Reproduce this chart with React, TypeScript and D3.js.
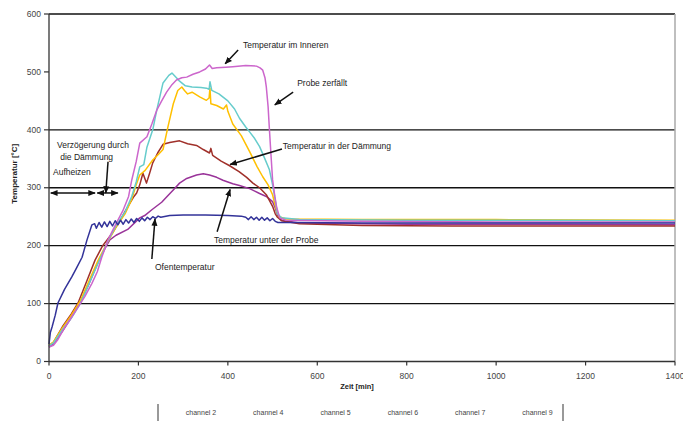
import React from "react";
import * as d3 from "d3";

type Pt = [number, number];

// Zeit [min] / Temperatur [°C]
const ofen: Pt[] = [
  [0, 30], [3, 50], [7, 60], [14, 80], [20, 101], [35, 125], [51, 146], [62, 162], [74, 180],
  [85, 210], [96, 236], [102, 238], [106, 230], [112, 240], [118, 232], [124, 241], [130, 233],
  [136, 242], [142, 234], [148, 243], [154, 236], [160, 244], [166, 237], [172, 245], [178, 239],
  [184, 246], [190, 240], [196, 247], [202, 242], [208, 248], [214, 243], [220, 249], [226, 245],
  [232, 250], [238, 247], [244, 251], [250, 249], [270, 252], [300, 253], [350, 253], [400, 252],
  [430, 251], [440, 249], [446, 245], [452, 250], [458, 245], [464, 249], [470, 244], [476, 249],
  [482, 244], [488, 248], [494, 243], [500, 247], [506, 242], [512, 240], [530, 240], [700, 239],
  [1000, 239], [1400, 239],
];

const inneren: Pt[] = [
  [0, 25], [10, 28], [20, 38], [36, 60], [50, 76], [65, 94], [80, 112], [96, 135], [108, 155],
  [118, 180], [132, 210], [150, 238], [165, 260], [178, 285], [185, 313], [195, 345], [203, 377],
  [219, 388], [230, 410], [241, 434], [252, 450], [263, 465], [275, 478], [285, 486], [297, 490],
  [308, 491], [322, 496], [337, 500], [350, 505], [359, 512], [365, 506], [375, 507], [395, 508],
  [411, 509], [440, 511], [464, 510], [472, 507], [478, 503], [483, 490], [486, 474], [490, 440],
  [493, 400], [497, 350], [500, 314], [505, 285], [509, 267], [516, 248], [530, 244], [700, 242],
  [1000, 241], [1400, 241],
];

const cyan: Pt[] = [
  [0, 27], [10, 32], [30, 55], [50, 75], [70, 100], [90, 135], [110, 170], [130, 205], [150, 235],
  [170, 258], [185, 285], [195, 310], [203, 336], [212, 340], [219, 370], [232, 400], [241, 434],
  [255, 481], [268, 494], [275, 498], [285, 490], [292, 484], [305, 476], [320, 474], [340, 473],
  [352, 472], [358, 470], [360, 483], [364, 468], [380, 462], [400, 450], [415, 436], [426, 420],
  [440, 405], [449, 396], [460, 385], [471, 371], [480, 355], [493, 331], [500, 305], [505, 284],
  [511, 255], [520, 248], [560, 245], [800, 244], [1100, 244], [1400, 243],
];

const gelb: Pt[] = [
  [0, 28], [10, 34], [30, 58], [50, 80], [70, 105], [90, 140], [110, 175], [130, 205], [150, 232],
  [170, 255], [185, 280], [195, 305], [203, 322], [215, 330], [232, 348], [245, 358], [255, 366],
  [266, 405], [278, 445], [288, 468], [297, 474], [303, 468], [310, 462], [320, 465], [337, 457],
  [352, 451], [358, 455], [360, 472], [362, 445], [375, 442], [390, 436], [397, 443], [400, 432],
  [411, 410], [430, 390], [449, 362], [465, 337], [478, 319], [490, 305], [500, 288], [505, 272],
  [510, 258], [515, 250], [530, 246], [700, 245], [1000, 245], [1400, 244],
];

const daemmung: Pt[] = [
  [0, 27], [10, 33], [30, 60], [50, 82], [65, 101], [85, 140], [103, 175], [120, 200], [141, 221],
  [160, 245], [176, 267], [190, 285], [196, 291], [203, 305], [210, 325], [218, 308], [225, 325],
  [232, 343], [243, 360], [255, 375], [270, 378], [292, 381], [310, 376], [330, 373], [345, 366],
  [359, 360], [362, 368], [366, 356], [385, 346], [404, 338], [425, 328], [442, 318], [456, 308],
  [471, 300], [486, 288], [500, 268], [506, 255], [511, 249], [520, 243], [560, 238], [700, 235],
  [900, 234], [1100, 234], [1400, 234],
];

const unterProbe: Pt[] = [
  [0, 25], [10, 30], [30, 52], [50, 76], [70, 102], [90, 135], [110, 172], [125, 195], [136, 210],
  [150, 218], [176, 228], [203, 248], [214, 252], [230, 262], [252, 275], [263, 284], [280, 298],
  [292, 308], [308, 316], [330, 322], [345, 324], [359, 322], [375, 318], [389, 313], [411, 307],
  [426, 304], [450, 298], [471, 290], [486, 285], [500, 276], [506, 265], [511, 253], [520, 244],
  [560, 239], [800, 237], [1100, 237], [1400, 236],
];

const series = [
  { name: "channel 2", data: unterProbe, color: "#993399" },
  { name: "channel 4", data: daemmung, color: "#a0302a" },
  { name: "channel 5", data: gelb, color: "#ffc000" },
  { name: "channel 6", data: cyan, color: "#66cccc" },
  { name: "channel 7", data: inneren, color: "#cc66cc" },
  { name: "channel 9", data: ofen, color: "#333399" },
];

const xTicks = [0, 200, 400, 600, 800, 1000, 1200, 1400];
const yTicks = [0, 100, 200, 300, 400, 500, 600];
const gridValues = [100, 200, 300, 400];

// Beschriftungen in Datenkoordinaten
const labels = [
  { text: "Temperatur im Inneren", x: 434, y: 541 },
  { text: "Probe zerfällt", x: 555, y: 476 },
  { text: "Temperatur in der Dämmung", x: 523, y: 367 },
  { text: "Temperatur unter der Probe", x: 369, y: 205 },
  { text: "Ofentemperatur", x: 237, y: 158 },
  { text: "Verzögerung durch", x: 18, y: 369 },
  { text: "die Dämmung", x: 25, y: 348 },
  { text: "Aufheizen", x: 9, y: 322 },
];

const arrows = [
  { x1: 423, y1: 538, x2: 394, y2: 514, both: false },
  { x1: 546, y1: 465, x2: 505, y2: 443, both: false },
  { x1: 521, y1: 367, x2: 405, y2: 340, both: false },
  { x1: 376, y1: 224, x2: 405, y2: 297, both: false },
  { x1: 230, y1: 177, x2: 237, y2: 246, both: false },
  { x1: 132, y1: 345, x2: 127, y2: 291, both: false },
  { x1: 4, y1: 291, x2: 103, y2: 291, both: true },
  { x1: 108, y1: 291, x2: 154, y2: 291, both: true },
];

const margin = { top: 14, right: 8, bottom: 64.5, left: 49 };
const W = 683;
const H = 426;
const width = W - margin.left - margin.right;
const height = H - margin.top - margin.bottom;

const xScale = d3.scaleLinear().domain([0, 1400]).range([0, width]);
const yScale = d3.scaleLinear().domain([0, 600]).range([height, 0]);

const line = d3
  .line<Pt>()
  .x((d) => xScale(d[0]))
  .y((d) => yScale(d[1]));

const font = "'Liberation Sans', Arial, sans-serif";

export default function App() {
  return (
    <svg
      width={W}
      height={H}
      style={{ position: "absolute", left: 0, top: 0, background: "#fff" }}
      fontFamily={font}
    >
      <defs>
        <marker id="head" viewBox="0 0 10 10" refX="9" refY="5" markerWidth="5" markerHeight="5" orient="auto-start-reverse">
          <path d="M0,1 L10,5 L0,9 z" fill="#111" />
        </marker>
      </defs>
      <g transform={`translate(${margin.left},${margin.top})`}>
        {/* gitter */}
        {gridValues.map((v) => (
          <line key={v} x1={0} x2={width} y1={yScale(v)} y2={yScale(v)} stroke="#111" strokeWidth={1.3} />
        ))}
        <line x1={0} x2={width} y1={0} y2={0} stroke="#111" strokeWidth={1.3} />
        <line x1={width} x2={width} y1={0} y2={height} stroke="#aaa" strokeWidth={1.5} />

        {/* kurven */}
        {series.map((s) => (
          <path key={s.name} d={line(s.data) ?? ""} fill="none" stroke={s.color} strokeWidth={1.5} strokeLinejoin="round" />
        ))}

        {/* achsen */}
        <line x1={0} x2={0} y1={0} y2={height} stroke="#333" strokeWidth={1.3} />
        <line x1={0} x2={width} y1={height} y2={height} stroke="#333" strokeWidth={1.3} />
        {yTicks.map((t) => (
          <g key={t} transform={`translate(0,${yScale(t)})`}>
            <line x1={-5} x2={0} stroke="#333" strokeWidth={1.2} />
            <text x={-8} dy="0.32em" textAnchor="end" fontSize={8.5} fill="#444">
              {t}
            </text>
          </g>
        ))}
        {xTicks.map((t) => (
          <g key={t} transform={`translate(${xScale(t)},${height})`}>
            <line y1={0} y2={4} stroke="#333" strokeWidth={1.2} />
            <text y={17} textAnchor="middle" fontSize={8.5} fill="#444">
              {t}
            </text>
          </g>
        ))}
        <text
          transform={`translate(${-margin.left + 17},${height / 2 - 14})rotate(-90)`}
          textAnchor="middle"
          fontSize={8}
          fontWeight="bold"
          fill="#222"
        >
          Temperatur [°C]
        </text>
        <text x={width / 2 - 5} y={height + 27} textAnchor="middle" fontSize={7.5} fontWeight="bold" fill="#222">
          Zeit [min]
        </text>

        {/* anmerkungen */}
        {arrows.map((a, i) => (
          <line
            key={i}
            x1={xScale(a.x1)}
            y1={yScale(a.y1)}
            x2={xScale(a.x2)}
            y2={yScale(a.y2)}
            stroke="#111"
            strokeWidth={1.5}
            markerEnd="url(#head)"
            markerStart={a.both ? "url(#head)" : undefined}
          />
        ))}
        {labels.map((l) => (
          <text key={l.text} x={xScale(l.x)} y={yScale(l.y)} fontSize={8.5} fill="#222">
            {l.text}
          </text>
        ))}
      </g>

      {/* legende */}
      <g transform={`translate(158,413)`}>
        <line x1={0} x2={0} y1={-9} y2={8} stroke="#555" strokeWidth={1.2} />
        <line x1={405} x2={405} y1={-9} y2={8} stroke="#555" strokeWidth={1.2} />
        {series.map((s, i) => (
          <text key={s.name} x={43 + i * 67.3} y={0} dy="0.32em" textAnchor="middle" fontSize={7} fill="#444">
            {s.name}
          </text>
        ))}
      </g>
    </svg>
  );
}
